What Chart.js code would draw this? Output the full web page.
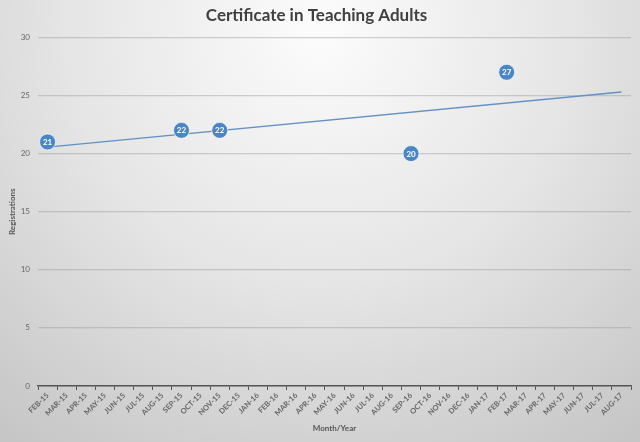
<!DOCTYPE html>
<html>
<head>
<meta charset="utf-8">
<script src="https://cdn.jsdelivr.net/npm/chart.js@4"></script>
<style>
  html, body { margin: 0; padding: 0; }
  #wrap { width: 640px; height: 442px; }
</style>
</head>
<body>
<div id="wrap"><canvas id="myChart"></canvas></div>
<script>
const months = [
  "FEB-15", "MAR-15", "APR-15", "MAY-15", "JUN-15", "JUL-15", "AUG-15", "SEP-15",
  "OCT-15", "NOV-15", "DEC-15", "JAN-16", "FEB-16", "MAR-16", "APR-16", "MAY-16",
  "JUN-16", "JUL-16", "AUG-16", "SEP-16", "OCT-16", "NOV-16", "DEC-16", "JAN-17",
  "FEB-17", "MAR-17", "APR-17", "MAY-17", "JUN-17", "JUL-17", "AUG-17",
];
// registrations, only the months that had an intake
const registrations = {
  "FEB-15": 21,
  "SEP-15": 22,
  "NOV-15": 22,
  "SEP-16": 20,
  "FEB-17": 27,
};
// trend line: value at first and last month
const trendStart = 20.55;
const trendEnd = 25.3;
const yTicks = [0, 5, 10, 15, 20, 25, 30];

const colors = {
  point: "#4a86c6",
  trend: "#6490c2",
  text: "#404040",
  tick: "#666666",
  axis: "#555555",
};

const pointData = months.map((m) => (m in registrations ? registrations[m] : null));
const trendData = months.map((m, i) =>
  i === 0 ? trendStart : i === months.length - 1 ? trendEnd : null
);

const background = {
  id: "background",
  beforeDraw(chart) {
    const { ctx, width, height } = chart;
    const g = ctx.createRadialGradient(width / 2, 30, 0, width / 2, 30, 510);
    g.addColorStop(0, "#fcfcfc");
    g.addColorStop(0.5, "#e5e5e5");
    g.addColorStop(1, "#c6c6c6");
    ctx.save();
    ctx.fillStyle = g;
    ctx.fillRect(0, 0, width, height);
    ctx.restore();
  },
};

const pointLabels = {
  id: "pointLabels",
  afterDatasetsDraw(chart) {
    const { ctx } = chart;
    const meta = chart.getDatasetMeta(0);
    ctx.save();
    ctx.fillStyle = "#ffffff";
    ctx.font = "bold 8px Lato";
    ctx.textAlign = "center";
    ctx.textBaseline = "middle";
    meta.data.forEach((pt, i) => {
      const v = pointData[i];
      if (v === null) return;
      ctx.fillText(String(v), pt.x, pt.y + 0.5);
    });
    ctx.restore();
  },
};

new Chart(document.getElementById("myChart"), {
  type: "line",
  data: {
    labels: months,
    datasets: [
      {
        data: pointData,
        showLine: false,
        pointRadius: 8,
        pointHoverRadius: 8,
        pointBackgroundColor: colors.point,
        pointBorderColor: "rgba(255,255,255,0.7)",
        pointBorderWidth: 1,
        order: 1,
      },
      {
        data: trendData,
        spanGaps: true,
        borderColor: colors.trend,
        borderWidth: 1.3,
        pointRadius: 0,
        order: 2,
      },
    ],
  },
  options: {
    responsive: true,
    maintainAspectRatio: false,
    animation: false,
    layout: { padding: { left: 0, right: 7, top: 0, bottom: 0 } },
    plugins: {
      legend: { display: false },
      tooltip: { enabled: false },
      title: {
        display: true,
        text: "Certificate in Teaching Adults",
        color: colors.text,
        font: { family: "Lato", size: 17, weight: "bold" },
        padding: { top: 5, bottom: 12 },
      },
    },
    scales: {
      x: {
        offset: true,
        grid: {
          display: true,
          drawOnChartArea: false,
          drawTicks: true,
          tickLength: 4,
          offset: true,
          color: colors.axis,
        },
        border: { display: true, color: colors.axis, width: 1.5 },
        ticks: {
          autoSkip: false,
          maxRotation: 45,
          minRotation: 45,
          color: colors.tick,
          padding: 1,
          font: { family: "Lato", size: 7.5, weight: "bold" },
        },
        title: {
          display: true,
          text: "Month/Year",
          color: "#555555",
          font: { family: "Lato", size: 8, weight: "bold" },
          padding: { top: 4, bottom: 9 },
        },
        afterFit(scale) {
          scale.height = 56;
        },
      },
      y: {
        min: 0,
        max: 30,
        afterBuildTicks(scale) {
          scale.ticks = yTicks.map((v) => ({ value: v }));
        },
        grid: {
          color: "rgba(150,150,150,0.42)",
          lineWidth: 1.2,
          drawTicks: false,
        },
        border: { display: false },
        ticks: {
          color: colors.tick,
          padding: 8,
          font: { family: "Lato", size: 8 },
        },
        title: {
          display: true,
          text: "Registrations",
          color: "#555555",
          font: { family: "Lato", size: 8, weight: "bold" },
          padding: { top: 8, bottom: 2 },
        },
        afterFit(scale) {
          scale.width = 38;
        },
      },
    },
  },
  plugins: [background, pointLabels],
});
</script>
</body>
</html>
